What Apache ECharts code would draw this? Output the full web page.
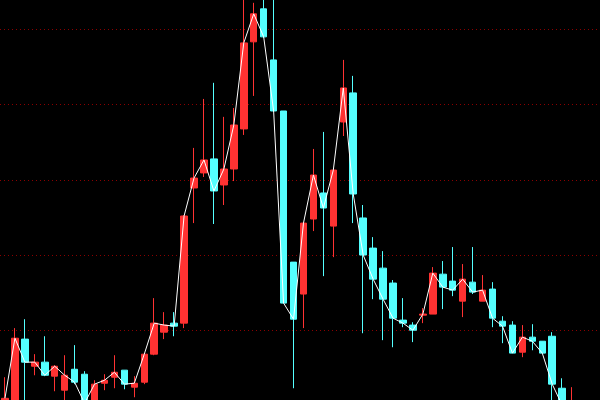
<!DOCTYPE html>
<html>
<head>
<meta charset="utf-8">
<script src="https://cdn.jsdelivr.net/npm/echarts@6/dist/echarts.min.js"></script>
<style>
html,body{margin:0;padding:0;background:#000;width:600px;height:400px;overflow:hidden;position:relative;}
#c{position:absolute;left:0;top:-46px;width:600px;height:452px;}
</style>
</head>
<body>
<div id="c"></div>
<script>
var categories = Array.from({length: 60}, function (_, i) { return 'D' + (i + 1); });
var opens  = [14.72,15.12,19.44,17.64,17.91,16.98,16.05,17.44,17.11,15.05,16.51,16.91,17.38,16.25,16.58,18.44,19.90,20.50,20.50,29.47,30.47,31.40,29.67,30.73,33.39,39.17,41.36,37.97,34.58,24.55,22.43,27.41,29.14,26.94,33.85,35.78,27.48,25.48,24.15,23.16,20.70,20.37,21.03,21.10,23.75,23.29,21.96,23.22,21.96,22.76,20.63,20.37,18.57,19.57,19.30,19.63,16.18,14.90];
var closes = [15.51,19.50,17.91,17.91,17.04,17.64,17.04,16.58,15.18,16.45,16.71,17.24,16.45,16.51,18.44,20.50,20.37,20.30,27.61,30.13,31.33,29.27,30.73,33.65,39.10,41.03,39.50,34.58,21.83,20.76,27.14,30.33,28.14,30.66,36.11,29.07,25.02,23.42,22.09,20.83,20.50,20.03,21.10,23.82,22.89,22.69,23.42,22.56,22.69,20.83,20.30,18.51,19.57,19.30,18.51,16.45,15.05,15.20];
var lows   = [14.58,14.85,15.12,17.04,16.98,15.98,15.38,16.45,14.98,14.92,16.05,16.18,16.11,15.58,16.45,18.37,19.44,19.63,20.17,27.14,30.20,27.08,28.34,29.93,32.99,35.58,39.44,34.52,21.83,16.18,20.17,26.61,23.62,24.88,32.92,27.14,19.83,22.09,19.37,18.90,20.23,19.24,20.50,21.10,21.43,22.29,20.90,22.43,21.96,20.23,19.17,18.51,18.24,18.70,18.51,15.25,14.72,14.80];
var highs  = [16.91,20.17,20.76,18.44,19.63,17.71,18.37,19.04,17.31,16.71,17.11,18.37,17.38,16.98,18.51,22.16,21.23,21.23,27.67,32.13,35.38,36.45,34.19,34.78,42.16,41.76,42.29,42.29,34.58,24.55,27.14,32.06,33.19,30.66,37.97,36.91,28.34,26.21,25.28,23.36,22.16,20.56,21.50,24.22,24.62,25.55,24.42,25.55,23.69,23.22,20.96,20.63,20.37,20.43,19.30,19.90,16.84,16.25];

var ohlc = opens.map(function (o, i) { return [o, closes[i], lows[i], highs[i]]; });

var chart = echarts.init(document.getElementById('c'), null, {renderer: 'canvas'});
chart.setOption({
  animation: false,
  backgroundColor: '#000000',
  grid: {left: 0, right: 3, top: 0, bottom: 0},
  xAxis: {
    type: 'category',
    data: categories,
    boundaryGap: true,
    axisLine: {show: false},
    axisTick: {show: false},
    axisLabel: {show: false},
    splitLine: {show: false}
  },
  yAxis: {
    type: 'value',
    min: 15,
    max: 45,
    interval: 5,
    axisLine: {show: false},
    axisTick: {show: false},
    axisLabel: {show: false},
    splitLine: {show: true, lineStyle: {color: '#8b0000', width: 1, type: [1, 3]}}
  },
  series: [
    {
      type: 'candlestick',
      data: ohlc,
      barWidth: 7,
      itemStyle: {
        color: '#ff3232',
        color0: '#54ffff',
        borderColor: '#ff3232',
        borderColor0: '#54ffff',
        borderWidth: 1
      }
    },
    {
      type: 'line',
      data: closes,
      showSymbol: false,
      symbol: 'none',
      z: 5,
      lineStyle: {color: '#ffffff', width: 1}
    }
  ]
});
</script>
</body>
</html>
